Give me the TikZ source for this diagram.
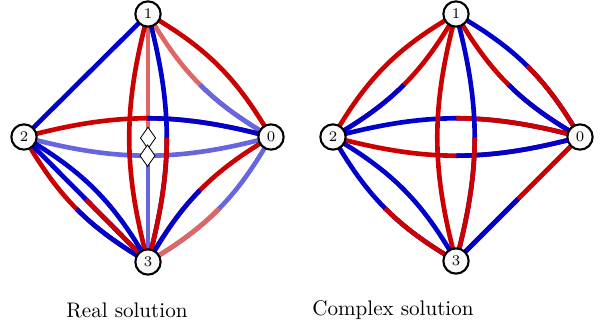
\documentclass[tikz,border=0pt]{standalone}
\usepackage{tikz}
\usetikzlibrary{calc,backgrounds,shapes.geometric}

\definecolor{solred}{RGB}{204,0,0}
\definecolor{solblue}{RGB}{0,0,204}
\definecolor{fadered}{RGB}{224,102,102}
\definecolor{fadeblue}{RGB}{102,102,224}

% edge whose two halves have different colours
\newcommand{\duoedge}[5]{%
  \draw[edge,#4] (#1.center) to[#3] (#2.center);
  \begin{scope}
    \clip ($(#2.center)!1.118!63.43:(#1.center)$) -- ($(#2.center)!1.415!135:(#1.center)$)
      -- ($(#2.center)!1.415!-135:(#1.center)$) -- ($(#2.center)!1.118!-63.43:(#1.center)$) -- cycle;
    \draw[edge,#5] (#1.center) to[#3] (#2.center);
  \end{scope}}

\begin{document}
\begin{tikzpicture}[
    x=0.474pt, y=-0.474pt,
    vertex/.style={circle, draw=black, line width=1pt, fill=gray!4, minimum size=12pt, inner sep=0pt, font=\scriptsize},
    edge/.style={line width=2.2pt},
    flag/.style={diamond, draw=black, thin, fill=white, inner sep=0pt, minimum width=7.3pt, minimum height=10.3pt},
    caption/.style={font=\normalsize}
]
\useasboundingbox (0,0) rectangle (604,334);

% Real solution - vertices
\node[vertex] (L1) at (148,14) {1};
\node[vertex] (L2) at (24,137) {2};
\node[vertex] (L0) at (271,137) {0};
\node[vertex] (L3) at (148,262) {3};

% Complex solution - vertices
\node[vertex] (R1) at (456,14) {1};
\node[vertex] (R2) at (333,137) {2};
\node[vertex] (R0) at (580,137) {0};
\node[vertex] (R3) at (456,261) {3};

\begin{scope}[on background layer]
% Real solution - edges
\draw[edge, solblue] (L1.center) to (L2.center);
\draw[edge, solred] (L1.center) to[bend left=15] (L0.center);
\duoedge{L1}{L0}{bend right=15}{fadered}{fadeblue}
\duoedge{L1}{L3}{bend left=0}{fadered}{fadeblue}
\duoedge{L2}{L0}{bend left=15}{solred}{solblue}
\draw[edge, fadeblue] (L2.center) to[bend right=15] (L0.center);
\duoedge{L1}{L3}{bend left=15}{solblue}{solred}
\draw[edge, solred] (L1.center) to[bend right=15] (L3.center);
\duoedge{L2}{L3}{bend right=15}{solred}{solblue}
\duoedge{L2}{L3}{bend left=0}{solblue}{solred}
\draw[edge, solblue] (L2.center) to[bend left=15] (L3.center);
\duoedge{L0}{L3}{bend right=15}{solred}{solblue}
\duoedge{L0}{L3}{bend left=15}{fadeblue}{fadered}

% Complex solution - edges
\draw[edge, solred] (R1.center) to[bend right=15] (R2.center);
\duoedge{R1}{R2}{bend left=15}{solred}{solblue}
\duoedge{R1}{R0}{bend left=15}{solblue}{solred}
\duoedge{R1}{R0}{bend right=15}{solred}{solblue}
\duoedge{R2}{R0}{bend left=15}{solblue}{solred}
\duoedge{R2}{R0}{bend right=15}{solred}{solblue}
\duoedge{R1}{R3}{bend left=15}{solblue}{solred}
\draw[edge, solred] (R1.center) to[bend right=15] (R3.center);
\duoedge{R2}{R3}{bend right=15}{solblue}{solred}
\draw[edge, solblue] (R2.center) to[bend left=15] (R3.center);
\duoedge{R0}{R3}{bend left=0}{solred}{solblue}
\end{scope}

% markers on the faded edges
\node[flag] (mk1) at ($(L1)!0.5!(L3)$) {};
\path (L2.center) to[bend right=15] node[flag] (mk2) {} (L0.center);

% captions
\node[caption] (realcap) at (127,310) {Real solution};
\node[caption] (cplxcap) at (393,310) {Complex solution};

\end{tikzpicture}
\end{document}
